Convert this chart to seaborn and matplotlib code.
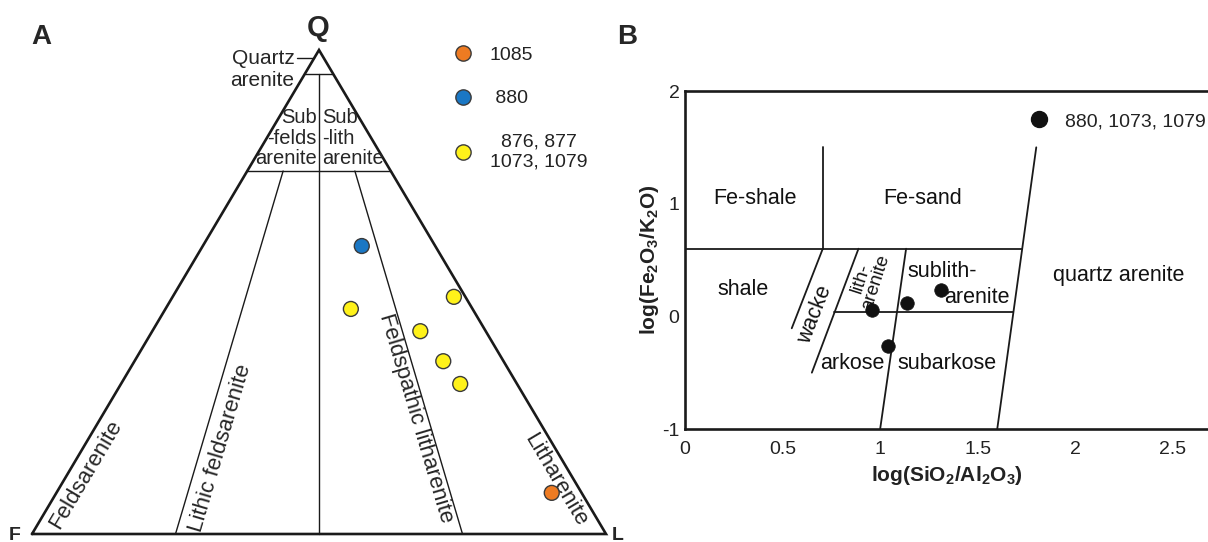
import numpy as np
import pandas as pd
import matplotlib.pyplot as plt
import seaborn as sns
from matplotlib.lines import Line2D

# QFL composition (%) of the samples, panel A
qfl_group = ['1085', '880', 'rest', 'rest', 'rest', 'rest', 'rest']
qfl_q = [8.5, 59.5, 46.5, 49.0, 41.9, 35.7, 31.0]
qfl_f = [5.2, 12.8, 21.2, 2.0, 11.4, 10.5, 9.9]
qfl_l = [86.3, 27.7, 32.3, 49.0, 46.7, 53.8, 59.1]
group_order = ['1085', '880', 'rest']
group_labels = ['1085', ' 880', '876, 877\n1073, 1079']
group_colors = ['#ee7b22', '#1a77c4', '#fff21a']

# Herron (1988) diagram, panel B
log_si_al = [0.96, 1.14, 1.31, 1.04]
log_fe_k = [0.06, 0.12, 0.23, -0.26]
b_label = '880, 1073, 1079'

sns.set_theme(style='white')
plt.rcParams['font.family'] = ['Liberation Sans', 'DejaVu Sans']
plt.rcParams['mathtext.fontset'] = 'custom'
plt.rcParams['mathtext.rm'] = 'Liberation Sans'
plt.rcParams['mathtext.bf'] = 'Liberation Sans:bold'

W, H = 1208, 542
fig = plt.figure(figsize=(W / 100, H / 100), dpi=100)


def tern(q, f, l):
    q, f, l = np.asarray(q, float), np.asarray(f, float), np.asarray(l, float)
    s = q + f + l
    return l / s + q / s / 2, q / s


def px(x, y):
    # pixel position -> figure fraction
    return x / W, 1 - y / H


# ---------------- panel A : QFL triangle ----------------
axA = fig.add_axes([32 / W, (H - 534) / H, 574 / W, 484 / H])
axA.set_xlim(0, 1)
axA.set_ylim(0, 1)
axA.axis('off')

outline = tern([0, 0, 100, 0], [100, 0, 0, 100], [0, 100, 0, 0])
axA.plot(*outline, color='k', lw=1.9, solid_joinstyle='miter', clip_on=False)

thin = dict(color='k', lw=1.0, clip_on=False)
for q in [95, 75]:
    axA.plot(*tern([q, q], [100 - q, 0], [0, 100 - q]), **thin)
# F:L ratio lines
axA.plot(*tern([95, 0], [2.5, 50], [2.5, 50]), **thin)
for r in [0.25, 0.75]:
    axA.plot(*tern([75, 0], [25 * (1 - r), 100 * (1 - r)], [25 * r, 100 * r]), **thin)

xs, ys = tern(qfl_q, qfl_f, qfl_l)
dfA = pd.DataFrame({'x': xs, 'y': ys, 'group': qfl_group})
sns.scatterplot(data=dfA, x='x', y='y', hue='group', hue_order=group_order,
                palette=dict(zip(group_order, group_colors)), s=115,
                edgecolor='#3a3a3a', linewidth=1.0, legend=False, ax=axA,
                zorder=5, clip_on=False)

handles = [Line2D([], [], marker='o', ls='', ms=11, mfc=c, mec='#3a3a3a', mew=1.0)
           for c in group_colors]
leg = axA.legend(handles, group_labels, loc='upper left',
                 bbox_to_anchor=px(453, 46), bbox_transform=fig.transFigure,
                 frameon=False, fontsize=14, handlelength=1.0, handletextpad=0.9,
                 labelspacing=1.35, borderpad=0, borderaxespad=0)
for t in leg.get_texts():
    t.set_multialignment('center')
    t.set_color('#222222')


def ta(x, y):
    return (x - 32) / 574, (534 - y) / 484


axA.text(*ta(318, 28), 'Q', fontsize=21, fontweight='bold', ha='center', va='center')
axA.text(*ta(295, 58), 'Quartz', fontsize=15, ha='right', va='center')
axA.text(*ta(294, 80), 'arenite', fontsize=15, ha='right', va='center')
axA.plot([ta(297, 58)[0], tern(98.3, 1.7, 0)[0]], [ta(297, 58)[1]] * 2, color='k', lw=1.0)
axA.text(*ta(317, 138), 'Sub\n-felds\narenite', fontsize=14.5, ha='right', va='center',
         multialignment='right', linespacing=1.1)
axA.text(*ta(322, 138), 'Sub\n-lith\narenite', fontsize=14.5, ha='left', va='center',
         multialignment='left', linespacing=1.1)

rot_kw = dict(fontsize=16, ha='center', va='center', rotation_mode='anchor')
axA.text(*ta(86, 474), 'Feldsarenite', rotation=59.3, **rot_kw)
axA.text(*ta(220, 448), 'Lithic feldsarenite', rotation=73.5, **rot_kw)
axA.text(*ta(416, 418), 'Feldspathic litharenite', rotation=-73.5, **rot_kw)
axA.text(*ta(555, 480), 'Litharenite', rotation=-59.3, **rot_kw)

fig.text(*px(9, 527), 'F', fontsize=14, fontweight='bold', ha='left', va='top')
fig.text(*px(612, 527), 'L', fontsize=14, fontweight='bold', ha='left', va='top')
fig.text(*px(41, 37), 'A', fontsize=20, fontweight='bold', ha='center', va='center')
fig.text(*px(627, 37), 'B', fontsize=20, fontweight='bold', ha='center', va='center')

# ---------------- panel B : Herron diagram ----------------
axB = fig.add_axes([685 / W, (H - 429) / H, (W - 685) / W, 338 / H])
axB.set_xlim(0, 2.68)
axB.set_ylim(-1, 2)
for side in ['left', 'top', 'bottom']:
    axB.spines[side].set_linewidth(1.9)
    axB.spines[side].set_color('k')
axB.spines['right'].set_visible(False)
axB.set_xticks([0, 0.5, 1, 1.5, 2, 2.5])
axB.set_xticklabels(['0', '0.5', '1', '1.5', '2', '2.5'])
axB.set_yticks([-1, 0, 1, 2])
axB.set_yticklabels(['-1', '0', '1', '2'])
axB.tick_params(axis='both', length=0, labelsize=14, colors='#222222')
axB.tick_params(axis='x', pad=9)
axB.tick_params(axis='y', pad=4)
axB.set_xlabel(r'log(SiO$_\mathregular{2}$/Al$_\mathregular{2}$O$_\mathregular{3}$)',
               fontsize=15, fontweight='bold', labelpad=4, color='#222222')
axB.set_ylabel(r'log(Fe$_\mathregular{2}$O$_\mathregular{3}$/K$_\mathregular{2}$O)',
               fontsize=15, fontweight='bold', labelpad=1, color='#222222')

bl = dict(color='k', lw=1.3)
axB.plot([0, 1.728], [0.6, 0.6], **bl)
axB.plot([0.706, 0.706], [0.6, 1.5], **bl)
axB.plot([1.60, 1.80], [-1, 1.5], **bl)
axB.plot([0.706, 0.547], [0.6, -0.106], **bl)
axB.plot([0.889, 0.65], [0.6, -0.5], **bl)
axB.plot([1.133, 1.0], [0.6, -1], **bl)
axB.plot([0.766, 1.683], [0.036, 0.036], **bl)

dfB = pd.DataFrame({'x': log_si_al, 'y': log_fe_k})
sns.scatterplot(data=dfB, x='x', y='y', color='#111111', s=95, edgecolor='#111111',
                linewidth=0.5, ax=axB, zorder=5)
hB = [Line2D([], [], marker='o', ls='', ms=11.5, mfc='#111111', mec='#111111')]
axB.legend(hB, [b_label], loc='center left', bbox_to_anchor=(1.762, 1.73),
           bbox_transform=axB.transData, frameon=False, fontsize=14,
           handlelength=1.0, handletextpad=0.86, borderpad=0, borderaxespad=0,
           labelcolor='#222222')

tb = dict(fontsize=15.5, ha='center', va='center', color='#111111')
axB.text(0.36, 1.05, 'Fe-shale', **tb)
axB.text(1.22, 1.05, 'Fe-sand', **tb)
axB.text(0.30, 0.24, 'shale', **tb)
axB.text(2.22, 0.36, 'quartz arenite', **tb)
axB.text(1.32, 0.40, 'sublith-', **tb)
axB.text(1.496, 0.17, 'arenite', **tb)
axB.text(0.855, -0.42, 'arkose', **tb)
axB.text(1.342, -0.42, 'subarkose', **tb)
axB.text(0.667, 0.01, 'wacke', rotation=68.6, rotation_mode='anchor', **tb)
axB.text(0.94, 0.32, 'lith-\narenite', rotation=72, rotation_mode='anchor',
         linespacing=0.85, **dict(tb, fontsize=13.5))

fig.savefig('out.png', dpi=100)
